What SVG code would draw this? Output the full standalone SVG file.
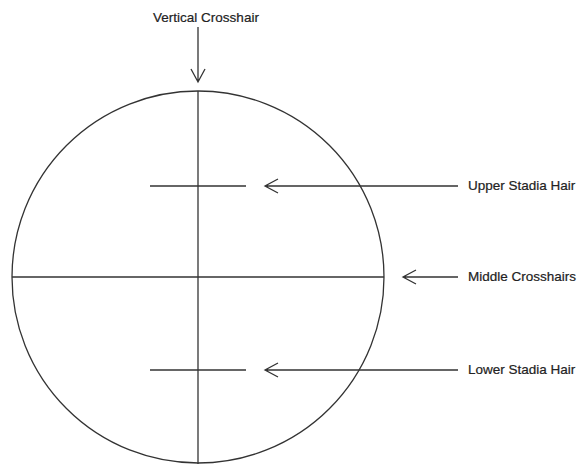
<svg xmlns="http://www.w3.org/2000/svg" width="582" height="464" viewBox="0 0 582 464">
<style>
.ln{stroke:#333;stroke-width:1.3;fill:none}
.ar{stroke:#333;stroke-width:1.3;fill:none}
.lbl{font-family:"Liberation Sans",Arial,sans-serif;font-size:13.5px;fill:#222;stroke:#222;stroke-width:0.2}
</style>
<rect width="582" height="464" fill="#fff"/>
<g id="reticle">
<circle class="ln" cx="198" cy="277" r="186"/>
<line class="ln" x1="198" y1="91" x2="198" y2="464"/>
<line class="ln" x1="12" y1="277" x2="384" y2="277"/>
<line class="ln" x1="150" y1="186" x2="246" y2="186"/>
<line class="ln" x1="150" y1="370" x2="246" y2="370"/>
</g>
<g id="connectors">
<path class="ar" d="M198 27V82M191 69L198 82L205 69"/>
<path class="ar" d="M458 186H265M278 179L265 186L278 193"/>
<path class="ar" d="M458 277H403M416 270L403 277L416 284"/>
<path class="ar" d="M458 370H265M278 363L265 370L278 377"/>
</g>
<g id="label-vertical"><text class="lbl" x="206" y="22" text-anchor="middle">Vertical Crosshair</text></g>
<g id="label-upper"><text class="lbl" x="468" y="190">Upper Stadia Hair</text></g>
<g id="label-middle"><text class="lbl" x="468" y="281">Middle Crosshairs</text></g>
<g id="label-lower"><text class="lbl" x="468" y="374">Lower Stadia Hair</text></g>
</svg>
